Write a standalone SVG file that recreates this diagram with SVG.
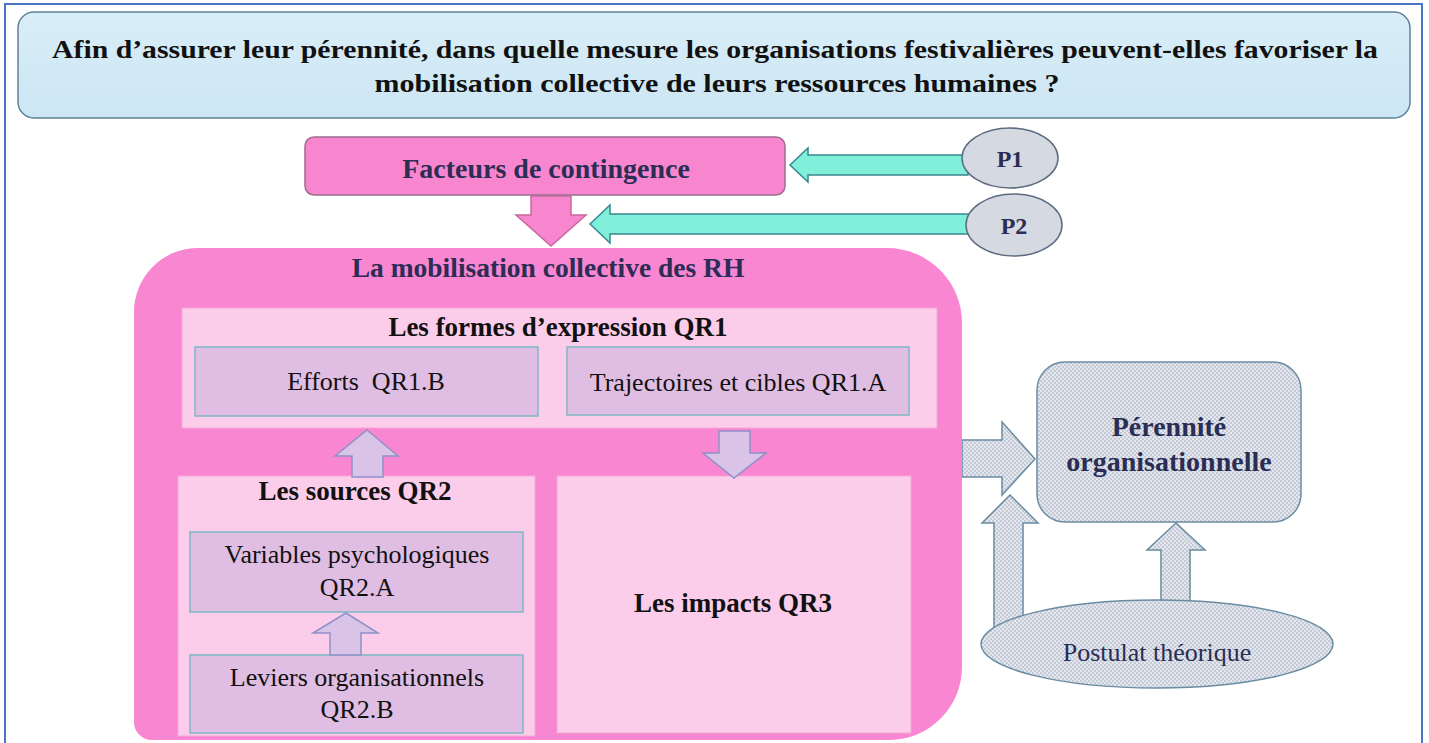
<svg xmlns="http://www.w3.org/2000/svg" width="1429" height="743" viewBox="0 0 1429 743">
<style>
.bold{font-family:"Liberation Serif","Times New Roman",serif;font-weight:bold;}
.reg{font-family:"Liberation Serif","Times New Roman",serif;}
.navy{fill:#2b2d55;}
.blk{fill:#111111;}
.pink{fill:#f986d1;}
.lpink{fill:#fbcdea;stroke:#f3a6d8;stroke-width:1;}
.lav{fill:#e0bde3;stroke:#7fb8c6;stroke-width:1.5;}
.lavarrow{fill:#d9c3e7;stroke:#8e92c8;stroke-width:1.5;}
.teal{fill:#80f0da;stroke:#3a8790;stroke-width:1.5;}
.pell{fill:#d5d9e2;stroke:#5d6c80;stroke-width:1.5;}
.hatch{fill:url(#hatch);stroke:#6a8ca2;stroke-width:1.5;}
</style>
<defs>
<linearGradient id="titleGrad" x1="0" y1="0" x2="0" y2="1">
<stop offset="0" stop-color="#d9eef8"/>
<stop offset="1" stop-color="#cce6f3"/>
</linearGradient>
<pattern id="hatch" width="4" height="4" patternUnits="userSpaceOnUse">
<rect width="4" height="4" fill="#e4e8ee"/>
<rect x="0" y="0" width="2" height="2" fill="#c4cbd6"/>
<rect x="2" y="2" width="2" height="2" fill="#c4cbd6"/>
</pattern>
</defs>
<rect x="0" y="0" width="1429" height="743" fill="#ffffff"/>
<rect x="5" y="4" width="1417" height="745" fill="none" stroke="#4b73c6" stroke-width="2"/>

<g id="question">
<rect x="18" y="12" width="1392" height="106" rx="16" fill="url(#titleGrad)" stroke="#5d8298" stroke-width="1.5"/>
<text class="bold blk" x="715" y="58" font-size="26" text-anchor="middle" textLength="1326" lengthAdjust="spacingAndGlyphs">Afin d’assurer leur pérennité, dans quelle mesure les organisations festivalières peuvent-elles favoriser la</text>
<text class="bold blk" x="717" y="92" font-size="26" text-anchor="middle" textLength="685" lengthAdjust="spacingAndGlyphs">mobilisation collective de leurs ressources humaines ?</text>
</g>

<g id="connectors">
<polygon class="teal" points="790,165 808,148 808,155 968,155 968,175 808,175 808,182"/>
<polygon class="teal" points="590,224 610,205 610,214 972,214 972,234 610,234 610,243"/>
<polygon points="531,196 571,196 571,215 586,215 551,246 516,215 531,215" fill="#f886cf" stroke="#c7679f" stroke-width="1.5"/>
<polygon class="hatch" points="962,440 1002,440 1002,422 1035,459 1002,495 1002,477 962,477"/>
<polygon class="hatch" points="1010,495 1038,523 1023,523 1023,630 994,630 994,523 982,523"/>
<polygon class="hatch" points="1176,523 1205,550 1190,550 1190,606 1161,606 1161,550 1147,550"/>
</g>

<g id="facteurs">
<rect x="305" y="137" width="480" height="58" rx="9" fill="#f886cf" stroke="#9c6d8e" stroke-width="1.5"/>
<text class="bold navy" x="546" y="178" font-size="28" text-anchor="middle">Facteurs de contingence</text>
</g>

<g id="p1">
<ellipse class="pell" cx="1010" cy="158" rx="48" ry="30"/>
<text class="bold navy" x="1010" y="167" font-size="24" text-anchor="middle">P1</text>
</g>
<g id="p2">
<ellipse class="pell" cx="1014" cy="225" rx="48" ry="31"/>
<text class="bold navy" x="1014" y="234" font-size="24" text-anchor="middle">P2</text>
</g>

<g id="mobilisation">
<path class="pink" d="M198,248 H887 A75,75 0 0 1 962,323 V667 A73,73 0 0 1 889,740 H152 A18,18 0 0 1 134,722 V312 A64,64 0 0 1 198,248 Z"/>
<text class="bold navy" x="548" y="277" font-size="27.5" text-anchor="middle">La mobilisation collective des RH</text>
</g>

<g id="formes">
<rect class="lpink" x="182" y="308" width="755" height="120"/>
<text class="bold blk" x="558" y="336" font-size="27" text-anchor="middle">Les formes d’expression QR1</text>
</g>
<g id="efforts">
<rect class="lav" x="195" y="347" width="343" height="69"/>
<text class="reg blk" x="366" y="390" font-size="26" text-anchor="middle" xml:space="preserve">Efforts  QR1.B</text>
</g>
<g id="trajectoires">
<rect class="lav" x="567" y="347" width="342" height="68"/>
<text class="reg blk" x="738" y="391" font-size="26" text-anchor="middle">Trajectoires et cibles QR1.A</text>
</g>

<g id="sources">
<rect class="lpink" x="178" y="476" width="357" height="260"/>
<text class="bold blk" x="355" y="500" font-size="27" text-anchor="middle">Les sources QR2</text>
</g>
<g id="variables">
<rect class="lav" x="190" y="532" width="333" height="80"/>
<text class="reg blk" x="357" y="563" font-size="26" text-anchor="middle">Variables psychologiques</text>
<text class="reg blk" x="357" y="596" font-size="26" text-anchor="middle">QR2.A</text>
</g>
<g id="leviers">
<rect class="lav" x="190" y="655" width="333" height="78"/>
<text class="reg blk" x="357" y="686" font-size="26" text-anchor="middle">Leviers organisationnels</text>
<text class="reg blk" x="357" y="718" font-size="26" text-anchor="middle">QR2.B</text>
</g>

<g id="impacts">
<rect class="lpink" x="557" y="476" width="354" height="257"/>
<text class="bold blk" x="733" y="612" font-size="27" text-anchor="middle">Les impacts QR3</text>
</g>

<g id="inner-connectors">
<polygon class="lavarrow" points="367,430 398,456 383,456 383,477 352,477 352,456 335,456"/>
<polygon class="lavarrow" points="346,613 378,633 361,633 361,655 330,655 330,633 313,633"/>
<polygon class="lavarrow" points="719,431 750,431 750,453 766,453 734,478 703,453 719,453"/>
</g>

<g id="perennite">
<rect class="hatch" x="1037" y="362" width="264" height="160" rx="28"/>
<text class="bold navy" x="1169" y="436" font-size="28" text-anchor="middle">Pérennité</text>
<text class="bold navy" x="1169" y="471" font-size="28" text-anchor="middle">organisationnelle</text>
</g>

<g id="postulat">
<ellipse class="hatch" cx="1157" cy="644" rx="176" ry="44"/>
<text class="reg navy" x="1157" y="661" font-size="26" text-anchor="middle">Postulat théorique</text>
</g>
</svg>
